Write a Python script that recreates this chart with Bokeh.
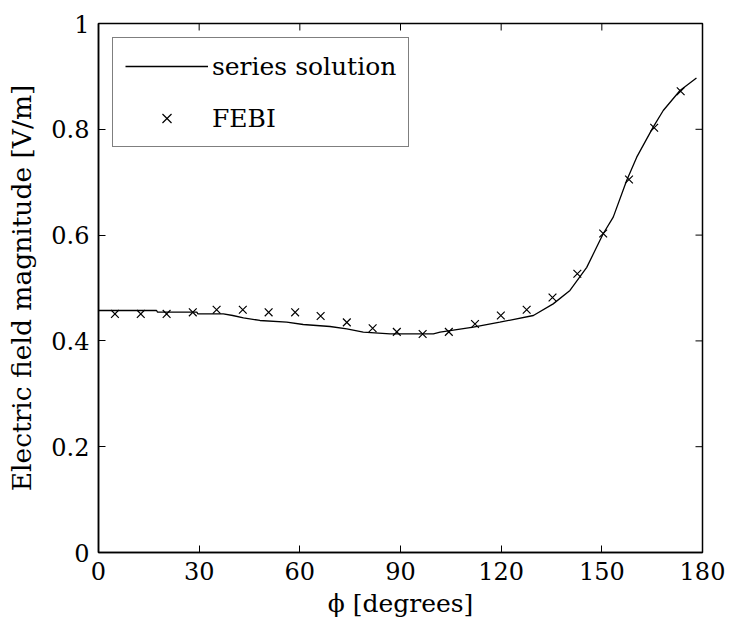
from bokeh.plotting import figure
from bokeh.models import FixedTicker, Range1d, Legend, LegendItem
from bokeh.embed import file_html
from bokeh.resources import INLINE

# series solution (line)
phi_line = [0, 17.3, 17.6, 29.3, 29.6, 37.2, 40.0, 43.2, 48.1, 56.1, 61.0, 69.0, 74.0,
            78.9, 86.9, 99.8, 101.8, 111.7, 119.6, 129.6, 135.5, 140.5, 145.5, 150.4,
            153.4, 157.4, 160.4, 165.3, 168.3, 173.3, 178.2]
e_line = [0.4575, 0.4575, 0.4543, 0.4543, 0.4512, 0.4512, 0.448, 0.4436, 0.4386, 0.4354,
          0.431, 0.4272, 0.4229, 0.4165, 0.4134, 0.4134, 0.4165, 0.426, 0.4354, 0.448,
          0.470, 0.4953, 0.539, 0.6025, 0.634, 0.7032, 0.7473, 0.804, 0.8355, 0.8733, 0.897]

# FEBI (markers)
phi_febi = [4.9, 12.6, 20.3, 28.1, 35.2, 43.0, 50.7, 58.6, 66.2, 74.0, 81.7, 88.9,
            96.6, 104.4, 112.2, 119.9, 127.6, 135.3, 142.7, 150.4, 158.1, 165.6, 173.5]
e_febi = [0.451, 0.451, 0.451, 0.454, 0.459, 0.459, 0.454, 0.454, 0.447, 0.435, 0.424,
          0.417, 0.413, 0.417, 0.432, 0.448, 0.459, 0.482, 0.527, 0.603, 0.705, 0.803, 0.872]

x_ticks = [0, 30, 60, 90, 120, 150, 180]
y_ticks = [0, 0.2, 0.4, 0.6, 0.8, 1]
y_tick_labels = ["0", "0.2", "0.4", "0.6", "0.8", "1"]

FONT = "DejaVu Serif"
X0, X1, Y0, Y1 = 0, 180, 0, 1

p = figure(width=728, height=626, output_backend="svg", toolbar_location=None,
           x_range=Range1d(X0, X1), y_range=Range1d(Y0, Y1),
           min_border_left=98, min_border_right=26, min_border_top=23, min_border_bottom=74)
p.grid.visible = False
p.background_fill_color = "white"
p.border_fill_color = "white"
p.outline_line_color = "black"
p.outline_line_width = 1.5

r_line = p.line(phi_line, e_line, line_color="black", line_width=1.3)
r_pts = p.scatter(phi_febi, e_febi, marker="x", size=11, line_color="black", line_width=1.2)

# inward ticks on the top and right sides of the box (tick length ~7 px)
tick_dy = 7 / 529 * (Y1 - Y0)
tick_dx = 7 / 604 * (X1 - X0)
p.segment(x0=x_ticks, y0=[Y1] * len(x_ticks), x1=x_ticks, y1=[Y1 - tick_dy] * len(x_ticks),
          line_color="black", line_width=1)
p.segment(x0=[X1] * len(y_ticks), y0=y_ticks, x1=[X1 - tick_dx] * len(y_ticks), y1=y_ticks,
          line_color="black", line_width=1)

for ax in (p.xaxis[0], p.yaxis[0]):
    ax.major_tick_in = 7
    ax.major_tick_out = 0
    ax.minor_tick_line_color = None
    ax.axis_line_width = 1.5
    ax.major_tick_line_width = 1
    ax.major_label_text_font = FONT
    ax.major_label_text_font_size = "24px"
    ax.major_label_text_color = "black"
    ax.axis_label_text_font = FONT
    ax.axis_label_text_font_style = "normal"
    ax.axis_label_text_color = "black"

p.xaxis[0].axis_label_text_font_size = "25px"
p.yaxis[0].axis_label_text_font_size = "26.5px"
p.xaxis[0].ticker = FixedTicker(ticks=x_ticks)
p.yaxis[0].ticker = FixedTicker(ticks=y_ticks)
p.yaxis[0].major_label_overrides = {t: s for t, s in zip(y_ticks, y_tick_labels)}
p.xaxis[0].axis_label = "\u03d5 [degrees]"
p.yaxis[0].axis_label = "Electric field magnitude [V/m]"
p.xaxis[0].major_label_standoff = 9
p.yaxis[0].major_label_standoff = 9
p.xaxis[0].axis_label_standoff = 6
p.yaxis[0].axis_label_standoff = 11

legend = Legend(items=[LegendItem(label="series solution", renderers=[r_line]),
                       LegendItem(label="FEBI", renderers=[r_pts])],
                location="top_left", margin=14, padding=12, spacing=20,
                glyph_width=83, glyph_height=32, label_height=32, label_standoff=4,
                label_text_font=FONT, label_text_font_size="25px",
                label_text_color="black",
                border_line_color="black", border_line_width=1.2,
                background_fill_alpha=1.0)
p.add_layout(legend)

open("out.html", "w").write(file_html(p, INLINE))
